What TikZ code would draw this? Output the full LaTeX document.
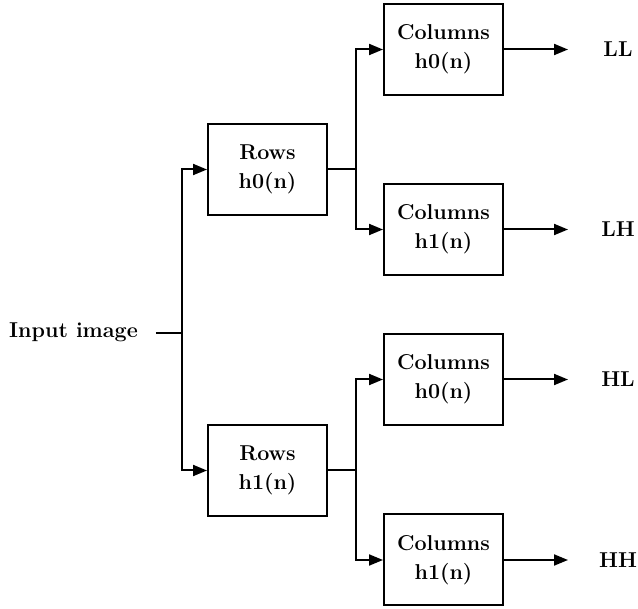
\documentclass[tikz,border=0pt]{standalone}
\usepackage{fontspec}
\setmainfont{Latin Modern Roman}
\usetikzlibrary{arrows.meta}
\begin{document}
\begin{tikzpicture}[x=1pt,y=-1pt,line width=2pt,
  box/.style={draw,line width=2pt,minimum width=119pt,minimum height=91pt,
    align=center,inner sep=0pt,font=\fontsize{21.5}{29}\selectfont\bfseries},
  lbl/.style={font=\fontsize{21.5}{26}\selectfont\bfseries,inner sep=3pt},
  arr/.style={-{Triangle[length=14pt,width=11pt]}}]
\useasboundingbox (0,0) rectangle (638,609);
\node[box] (r0) at (267.5,169.5) {Rows\\h0(n)};
\node[box] (r1) at (267.5,470.5) {Rows\\h1(n)};
\node[box] (c0) at (443.5,49.5) {Columns\\h0(n)};
\node[box] (c1) at (443.5,229.5) {Columns\\h1(n)};
\node[box] (c2) at (443.5,379.5) {Columns\\h0(n)};
\node[box] (c3) at (443.5,560) {Columns\\h1(n)};
\node[lbl,anchor=base] (in) at (73.5,338) {Input image};
\node[lbl] (LL) at (618,49.5) {LL};
\node[lbl] (LH) at (618,229.5) {LH};
\node[lbl] (HL) at (618,379.5) {HL};
\node[lbl] (HH) at (618,560) {HH};
\coordinate (e) at (568,0);
\draw ([xshift=14pt]in.east) -- ++(26,0) coordinate (s);
\draw[arr] (s) |- (r0.west);
\draw[arr] (s) |- (r1.west);
\draw (r0.east) -- ++(28,0) coordinate (t0);
\draw[arr] (t0) |- (c0.west);
\draw[arr] (t0) |- (c1.west);
\draw (r1.east) -- ++(28,0) coordinate (t1);
\draw[arr] (t1) |- (c2.west);
\draw[arr] (t1) |- (c3.west);
\draw[arr] (c0.east) -- (e |- c0.east);
\draw[arr] (c1.east) -- (e |- c1.east);
\draw[arr] (c2.east) -- (e |- c2.east);
\draw[arr] (c3.east) -- (e |- c3.east);
\end{tikzpicture}
\end{document}
